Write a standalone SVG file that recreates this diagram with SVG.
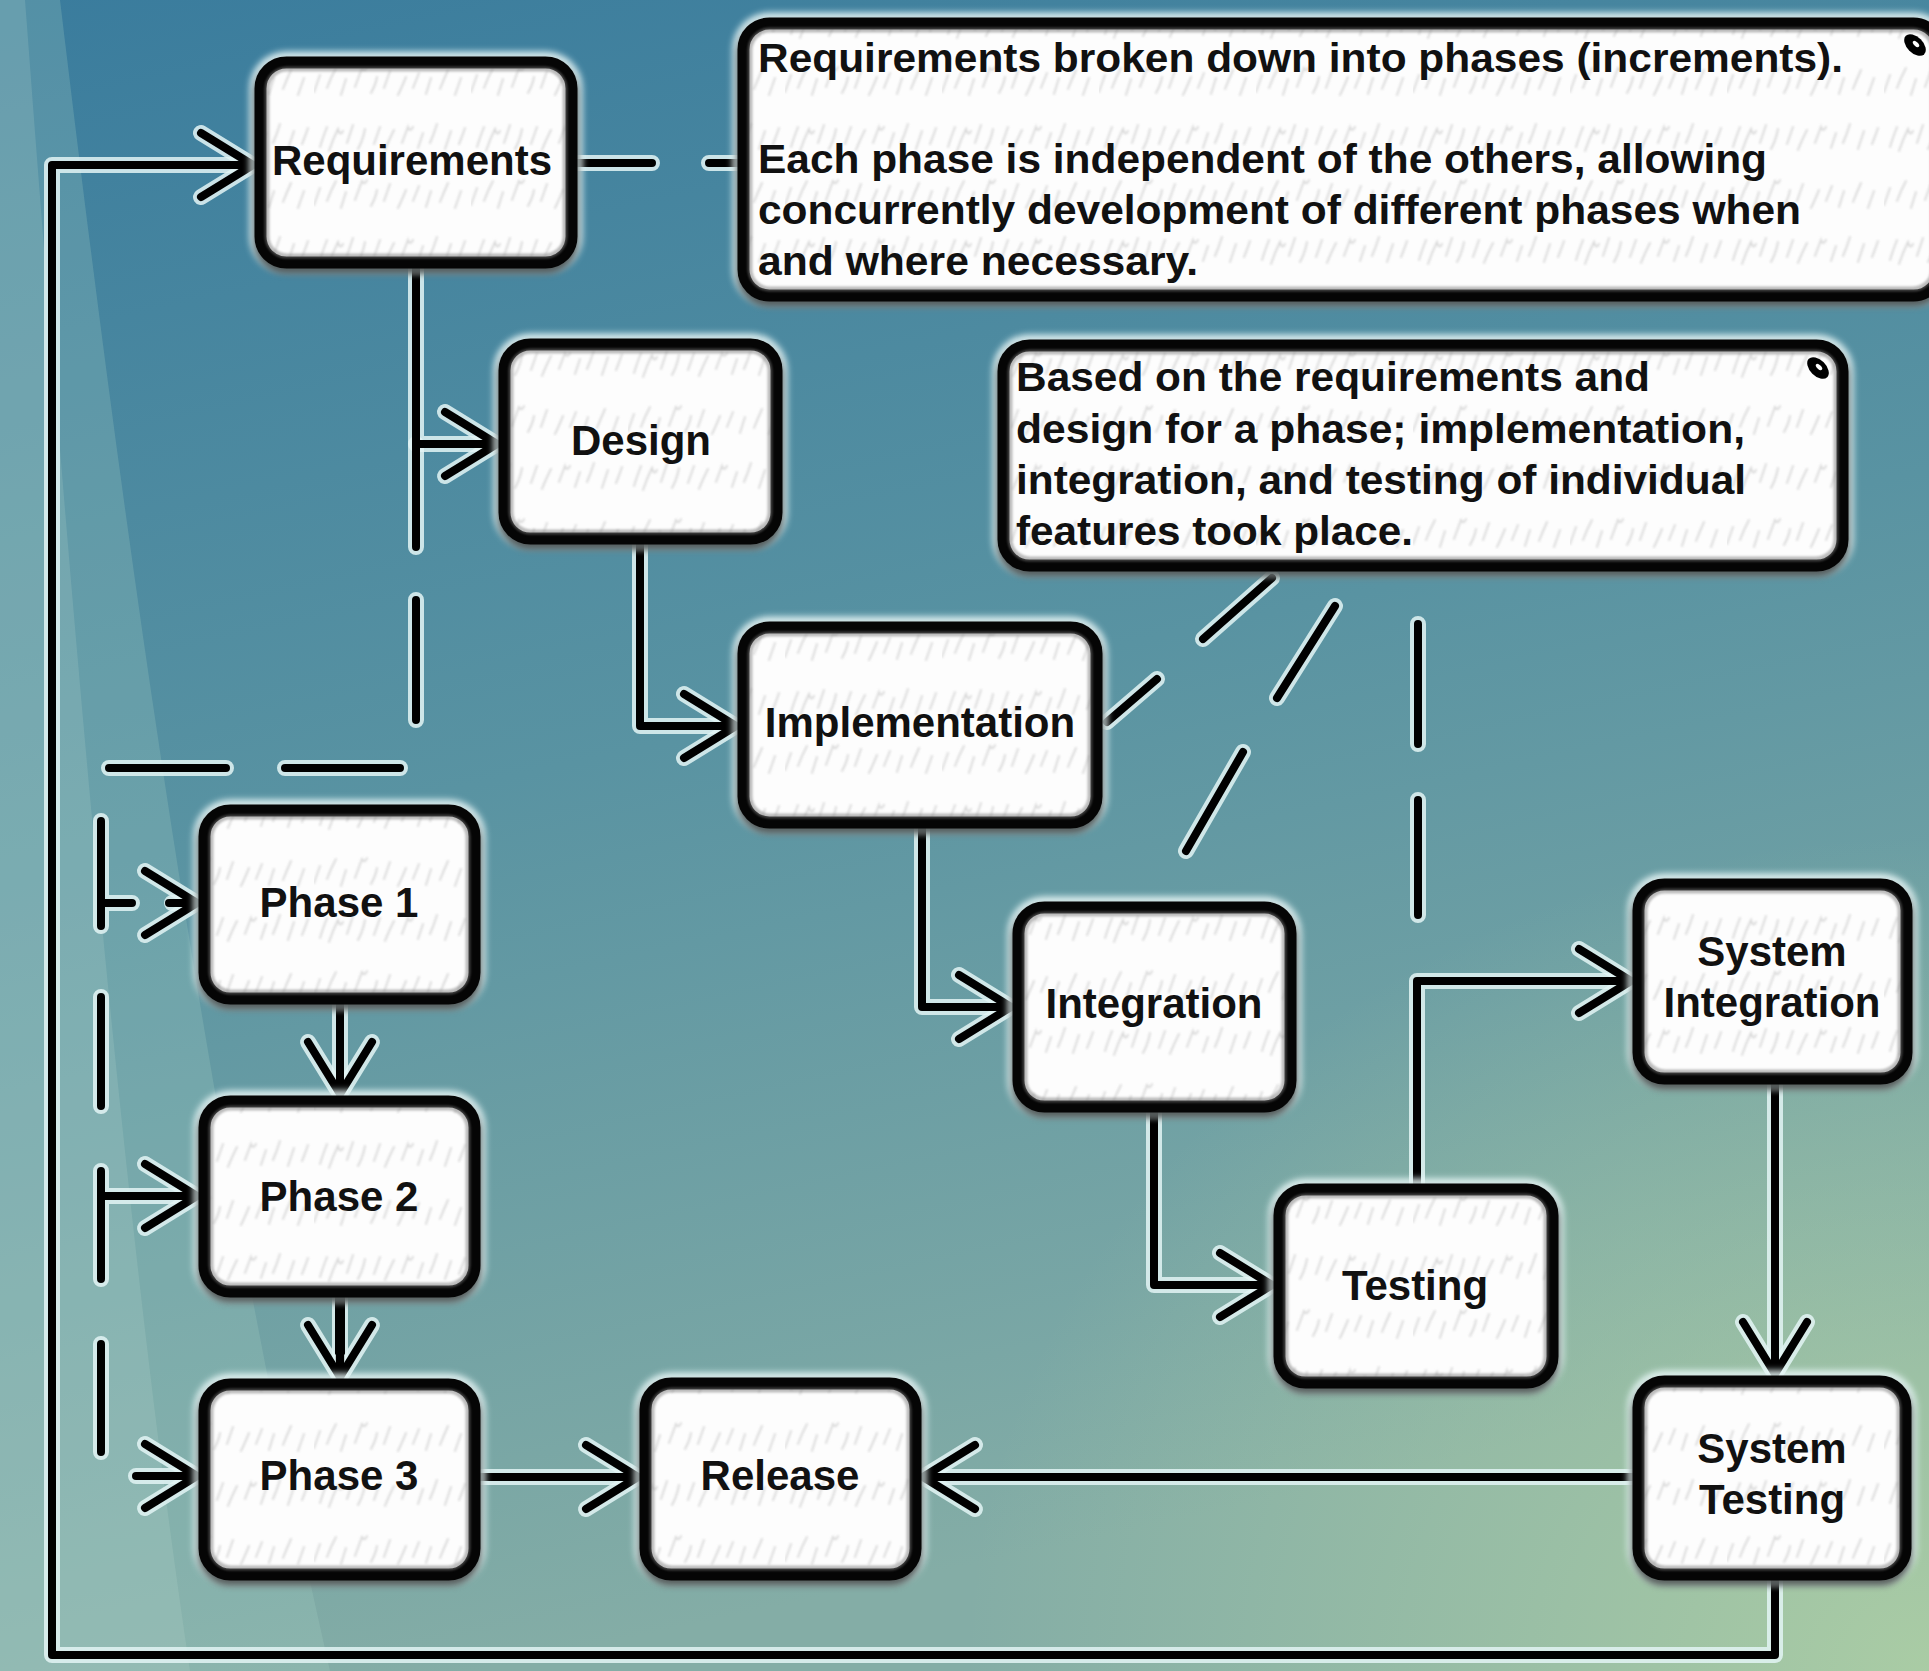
<svg xmlns="http://www.w3.org/2000/svg" width="1929" height="1671" viewBox="0 0 1929 1671">
<defs>
<style>
.glow{fill:none;stroke:#e8f7f7;stroke-width:22;opacity:.9;filter:url(#b3)}
.shadow{fill:none;stroke:#000;stroke-width:13;opacity:.6;filter:url(#b3)}
.box{fill:url(#tex);stroke:#050505;stroke-width:12}
.bevel{fill:none;stroke:#7c7c7c;stroke-width:5;opacity:.5;filter:url(#b1)}
.lbl{font-family:"Liberation Sans",Arial,sans-serif;font-weight:bold;font-size:42px;fill:#111;text-anchor:middle}
.note{font-family:"Liberation Sans",Arial,sans-serif;font-weight:bold;font-size:41px;fill:#111}
.halo{fill:none;stroke:#e3f4f4;stroke-width:16;stroke-linecap:round;stroke-linejoin:round;opacity:.85}
.core{fill:none;stroke:#000;stroke-width:8;stroke-linecap:round;stroke-linejoin:round}
.curl{fill:#000}
</style>
<filter id="b3" x="-20%" y="-20%" width="140%" height="140%"><feGaussianBlur stdDeviation="3"/></filter>
<filter id="b1" x="-10%" y="-10%" width="120%" height="120%"><feGaussianBlur stdDeviation="1.2"/></filter>
<filter id="bt" x="-5%" y="-5%" width="110%" height="110%"><feGaussianBlur stdDeviation="1"/></filter>
<linearGradient id="bg" x1="0" y1="0" x2="0.25" y2="1">
<stop offset="0" stop-color="#3a7c9d"/>
<stop offset="0.5" stop-color="#5993a2"/>
<stop offset="1" stop-color="#84ada6"/>
</linearGradient>
<radialGradient id="br" cx="1" cy="1" r="0.5">
<stop offset="0" stop-color="#b6d6a4" stop-opacity=".75"/>
<stop offset="1" stop-color="#b6d6a4" stop-opacity="0"/>
</radialGradient>
<pattern id="tex" patternUnits="userSpaceOnUse" width="157" height="113">
<rect width="157" height="113" fill="#fdfdfd"/>
<g fill="none" stroke="#d2d2d2" stroke-width="2" stroke-linecap="round" filter="url(#bt)" opacity=".8">
<path d="M6,34 q3,-10 7,-20 M15,38 q4,-12 9,-22 q2,8 5,2 M33,30 l6,-18 M44,36 q5,-9 7,-20 M60,31 l6,-17 M71,37 q3,-8 9,-20 M88,30 l6,-16 q2,6 5,0 M104,35 l5,-15 M116,30 q4,-9 7,-19 M131,36 l6,-18 M145,31 q3,-7 6,-16"/>
<path d="M0,92 l6,-17 M13,88 q4,-11 9,-20 M27,95 l5,-16 M41,87 l7,-19 q3,5 5,-1 M57,93 q5,-9 6,-16 M70,88 l6,-17 M84,95 q3,-6 8,-18 M99,88 l6,-15 M112,94 l5,-16 M126,89 q4,-10 8,-19 M141,95 l6,-17"/>
</g>
</pattern>
<marker id="arr" viewBox="-70 -45 80 90" markerWidth="80" markerHeight="90" refX="0" refY="0" orient="auto" markerUnits="userSpaceOnUse" overflow="visible">
<path d="M-54,-32 L-2,0 L-54,32" fill="none" stroke="#e3f4f4" stroke-width="16" stroke-linecap="round" stroke-linejoin="round" opacity=".85"/>
<path d="M-54,-32 L-2,0 L-54,32 M-30,0 H-2" fill="none" stroke="#000" stroke-width="8" stroke-linecap="round" stroke-linejoin="round"/>
</marker>
</defs>

<g id="background">
<rect width="1929" height="1671" fill="url(#bg)"/>
<rect width="1929" height="1671" fill="url(#br)"/>
<path d="M0,0 H60 C120,500 200,1100 330,1671 H0 Z" fill="#a9d3c4" opacity=".24"/>
<path d="M0,0 H25 C70,600 120,1200 190,1671 H0 Z" fill="#c0e0d0" opacity=".18"/>
</g>

<g id="connectors">
<g id="halos">
<path class="halo" d="M1775,1580 V1655 H52 V165 H255"/>
<path class="halo" d="M416,268 V444 H499"/>
<path class="halo" d="M640,544 V726 H738"/>
<path class="halo" d="M922,828 V1007 H1013"/>
<path class="halo" d="M1154,1112 V1285 H1274"/>
<path class="halo" d="M1417,1184 V981 H1633"/>
<path class="halo" d="M1775,1084 V1376"/>
<path class="halo" d="M1633,1477 H921"/>
<path class="halo" d="M480,1477 H640"/>
<path class="halo" d="M340,1004 V1096"/>
<path class="halo" d="M340,1297 V1379"/>
<path class="halo" d="M416,444 V547 M416,600 V720 M400,768 H285 M226,768 H109 M101,821 V926 M101,903 H132 M101,997 V1106 M101,1171 V1279 M101,1196 H199 M101,1344 V1452 M136,1476 H199 M172,903 H199"/>
<path class="halo" d="M577,163 H652 M709,163 H738"/>
<path class="halo" d="M1272,578 L1203,639 M1157,679 L1107,722"/>
<path class="halo" d="M1335,606 L1277,698 M1243,752 L1186,851"/>
<path class="halo" d="M1418,624 V744 M1418,800 V915"/>
</g>
<g id="edges">
<path id="e-systest-req" class="core" d="M1775,1580 V1655 H52 V165 H255" marker-end="url(#arr)"/>
<path id="e-req-design" class="core" d="M416,268 V444 H499" marker-end="url(#arr)"/>
<path id="e-design-impl" class="core" d="M640,544 V726 H738" marker-end="url(#arr)"/>
<path id="e-impl-integ" class="core" d="M922,828 V1007 H1013" marker-end="url(#arr)"/>
<path id="e-integ-test" class="core" d="M1154,1112 V1285 H1274" marker-end="url(#arr)"/>
<path id="e-test-sysint" class="core" d="M1417,1184 V981 H1633" marker-end="url(#arr)"/>
<path id="e-sysint-systest" class="core" d="M1775,1084 V1376" marker-end="url(#arr)"/>
<path id="e-systest-release" class="core" d="M1633,1477 H921" marker-end="url(#arr)"/>
<path id="e-p3-release" class="core" d="M480,1477 H640" marker-end="url(#arr)"/>
<path id="e-p1-p2" class="core" d="M340,1004 V1096" marker-end="url(#arr)"/>
<path id="e-p2-p3" class="core" d="M340,1297 V1379" marker-end="url(#arr)" style="stroke-width:10"/>
<g id="e-req-phases">
<path class="core" d="M416,444 V547 M416,600 V720 M400,768 H285 M226,768 H109 M101,821 V926 M101,903 H132 M101,997 V1106 M101,1171 V1279 M101,1344 V1452"/>
<path class="core" d="M172,903 H199" marker-end="url(#arr)"/>
<path class="core" d="M101,1196 H199" marker-end="url(#arr)"/>
<path class="core" d="M136,1476 H199" marker-end="url(#arr)"/>
</g>
<path id="e-req-note1" class="core" d="M577,163 H652 M709,163 H738"/>
<path id="e-note2-impl" class="core" d="M1272,578 L1203,639 M1157,679 L1107,722"/>
<path id="e-note2-integ" class="core" d="M1335,606 L1277,698 M1243,752 L1186,851"/>
<path id="e-note2-test" class="core" d="M1418,624 V744 M1418,800 V915"/>
</g>
</g>

<g id="n-requirements">
<rect class="glow" x="260.5" y="62.5" width="311" height="200" rx="26"/>
<rect class="shadow" x="260.5" y="67.5" width="311" height="200" rx="26"/>
<rect class="box" x="260.5" y="62.5" width="311" height="200" rx="26"/>
<rect class="bevel" x="267" y="69" width="298" height="187" rx="20"/>
<text class="lbl" x="412" y="175">Requirements</text>
</g>

<g id="n-design">
<rect class="glow" x="504.5" y="344.5" width="272" height="194" rx="26"/>
<rect class="shadow" x="504.5" y="349.5" width="272" height="194" rx="26"/>
<rect class="box" x="504.5" y="344.5" width="272" height="194" rx="26"/>
<rect class="bevel" x="511" y="351" width="259" height="181" rx="20"/>
<text class="lbl" x="641" y="455">Design</text>
</g>

<g id="n-implementation">
<rect class="glow" x="743.5" y="627.5" width="353" height="195" rx="26"/>
<rect class="shadow" x="743.5" y="632.5" width="353" height="195" rx="26"/>
<rect class="box" x="743.5" y="627.5" width="353" height="195" rx="26"/>
<rect class="bevel" x="750" y="634" width="340" height="182" rx="20"/>
<text class="lbl" x="920" y="737">Implementation</text>
</g>

<g id="n-integration">
<rect class="glow" x="1018.5" y="907.5" width="272" height="199" rx="26"/>
<rect class="shadow" x="1018.5" y="912.5" width="272" height="199" rx="26"/>
<rect class="box" x="1018.5" y="907.5" width="272" height="199" rx="26"/>
<rect class="bevel" x="1025" y="914" width="259" height="186" rx="20"/>
<text class="lbl" x="1154" y="1018">Integration</text>
</g>

<g id="n-testing">
<rect class="glow" x="1279.5" y="1189.5" width="273" height="193" rx="26"/>
<rect class="shadow" x="1279.5" y="1194.5" width="273" height="193" rx="26"/>
<rect class="box" x="1279.5" y="1189.5" width="273" height="193" rx="26"/>
<rect class="bevel" x="1286" y="1196" width="260" height="180" rx="20"/>
<text class="lbl" x="1415" y="1300">Testing</text>
</g>

<g id="n-system-integration">
<rect class="glow" x="1638.5" y="884.5" width="268" height="194" rx="26"/>
<rect class="shadow" x="1638.5" y="889.5" width="268" height="194" rx="26"/>
<rect class="box" x="1638.5" y="884.5" width="268" height="194" rx="26"/>
<rect class="bevel" x="1645" y="891" width="255" height="181" rx="20"/>
<text class="lbl" x="1772" y="966">System</text>
<text class="lbl" x="1772" y="1017">Integration</text>
</g>

<g id="n-system-testing">
<rect class="glow" x="1638.5" y="1381.5" width="267" height="193" rx="26"/>
<rect class="shadow" x="1638.5" y="1386.5" width="267" height="193" rx="26"/>
<rect class="box" x="1638.5" y="1381.5" width="267" height="193" rx="26"/>
<rect class="bevel" x="1645" y="1388" width="254" height="180" rx="20"/>
<text class="lbl" x="1772" y="1463">System</text>
<text class="lbl" x="1772" y="1514">Testing</text>
</g>

<g id="n-phase1">
<rect class="glow" x="204.5" y="810.5" width="270" height="188" rx="26"/>
<rect class="shadow" x="204.5" y="815.5" width="270" height="188" rx="26"/>
<rect class="box" x="204.5" y="810.5" width="270" height="188" rx="26"/>
<rect class="bevel" x="211" y="817" width="257" height="175" rx="20"/>
<text class="lbl" x="339" y="917">Phase 1</text>
</g>

<g id="n-phase2">
<rect class="glow" x="204.5" y="1101.5" width="270" height="190" rx="26"/>
<rect class="shadow" x="204.5" y="1106.5" width="270" height="190" rx="26"/>
<rect class="box" x="204.5" y="1101.5" width="270" height="190" rx="26"/>
<rect class="bevel" x="211" y="1108" width="257" height="177" rx="20"/>
<text class="lbl" x="339" y="1211">Phase 2</text>
</g>

<g id="n-phase3">
<rect class="glow" x="204.5" y="1384.5" width="270" height="190" rx="26"/>
<rect class="shadow" x="204.5" y="1389.5" width="270" height="190" rx="26"/>
<rect class="box" x="204.5" y="1384.5" width="270" height="190" rx="26"/>
<rect class="bevel" x="211" y="1391" width="257" height="177" rx="20"/>
<text class="lbl" x="339" y="1490">Phase 3</text>
</g>

<g id="n-release">
<rect class="glow" x="645.5" y="1383.5" width="270" height="191" rx="26"/>
<rect class="shadow" x="645.5" y="1388.5" width="270" height="191" rx="26"/>
<rect class="box" x="645.5" y="1383.5" width="270" height="191" rx="26"/>
<rect class="bevel" x="652" y="1390" width="257" height="178" rx="20"/>
<text class="lbl" x="780" y="1490">Release</text>
</g>

<g id="n-note1">
<rect class="glow" x="743.5" y="23.5" width="1196" height="272" rx="26"/>
<rect class="shadow" x="743.5" y="28.5" width="1196" height="272" rx="26"/>
<rect class="box" x="743.5" y="23.5" width="1196" height="272" rx="26"/>
<rect class="bevel" x="750" y="30" width="1183" height="259" rx="20"/>
<ellipse class="curl" cx="1915" cy="45" rx="13" ry="8" transform="rotate(45 1915 45)"/>
<ellipse cx="1916" cy="44" rx="4" ry="2" fill="#fff" transform="rotate(45 1916 44)"/>
<text class="note" x="758" y="72" textLength="1085" lengthAdjust="spacingAndGlyphs">Requirements broken down into phases (increments).</text>
<text class="note" x="758" y="173" textLength="1009" lengthAdjust="spacingAndGlyphs">Each phase is independent of the others, allowing</text>
<text class="note" x="758" y="224" textLength="1043" lengthAdjust="spacingAndGlyphs">concurrently development of different phases when</text>
<text class="note" x="758" y="275" textLength="440" lengthAdjust="spacingAndGlyphs">and where necessary.</text>
</g>

<g id="n-note2">
<rect class="glow" x="1003.5" y="345.5" width="839" height="220" rx="26"/>
<rect class="shadow" x="1003.5" y="350.5" width="839" height="220" rx="26"/>
<rect class="box" x="1003.5" y="345.5" width="839" height="220" rx="26"/>
<rect class="bevel" x="1010" y="352" width="826" height="207" rx="20"/>
<ellipse class="curl" cx="1818" cy="368" rx="13" ry="8" transform="rotate(45 1818 368)"/>
<ellipse cx="1819" cy="367" rx="4" ry="2" fill="#fff" transform="rotate(45 1819 367)"/>
<text class="note" x="1016" y="391" textLength="634" lengthAdjust="spacingAndGlyphs">Based on the requirements and</text>
<text class="note" x="1016" y="443" textLength="729" lengthAdjust="spacingAndGlyphs">design for a phase; implementation,</text>
<text class="note" x="1016" y="494" textLength="730" lengthAdjust="spacingAndGlyphs">integration, and testing of individual</text>
<text class="note" x="1016" y="545" textLength="397" lengthAdjust="spacingAndGlyphs">features took place.</text>
</g>
</svg>
